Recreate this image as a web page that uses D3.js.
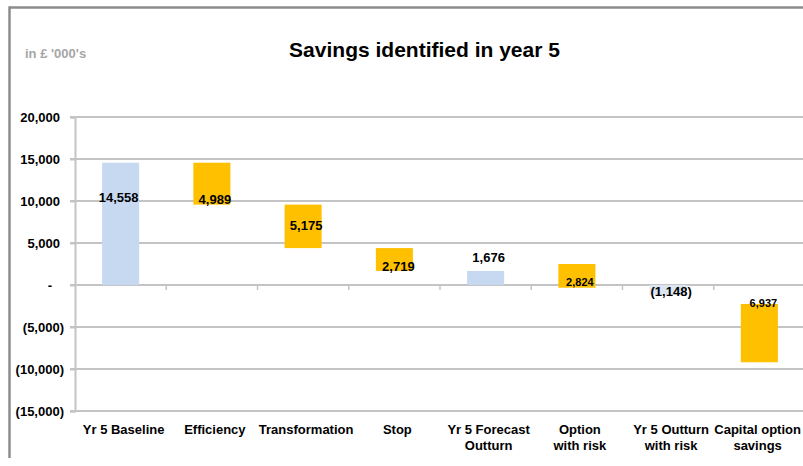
<!DOCTYPE html>
<html>
<head>
<meta charset="utf-8">
<script src="https://cdn.jsdelivr.net/npm/d3@7"></script>
<style>
  html, body { margin: 0; padding: 0; background: #fff; }
  svg { display: block; font-family: "Liberation Sans", Arial, sans-serif; }
</style>
</head>
<body>
<svg id="chart" width="803" height="466"></svg>
<script>
// ---- data (in £ '000s) ----
const categories = [
  "Yr 5 Baseline", "Efficiency", "Transformation", "Stop",
  "Yr 5 Forecast\nOutturn", "Option\nwith risk", "Yr 5 Outturn\nwith risk", "Capital option\nsavings"
];
// "total" bars stand on their own level, "step" bars show a saving taken off
const barKind = ["total", "step", "step", "step", "total", "step", "total", "step"];
// signed movement shown by each bar
const amounts = [14558, -4989, -5175, -2719, 1676, -2824, -1148, -6937];
// level each bar starts from
const barFrom = [0, 14558, 9569, 4394, 0, 2500, 0, -2262];
const yTicks = [20000, 15000, 10000, 5000, 0, -5000, -10000, -15000];

// ---- layout ----
const W = 803, H = 466;
const plot = { left: 75, top: 117, bottom: 411, right: 75 + 8 * 91.25 };
// where each value label sits (data units, baseline) and its size
const labelAt = [9845, 9607, 6512, 1667, 2774, -83, -1274, -2583];
const labelSize = [13, 13, 13, 13, 13, 11, 13, 11];
const labelDx = [-2, 3, 3, 4, 3, 3, 3, 4];

const svg = d3.select("#chart");

const x = d3.scaleBand()
  .domain(categories)
  .range([plot.left, plot.right])
  .paddingInner(0.594)
  .paddingOuter(0.297);

const y = d3.scaleLinear()
  .domain([-15000, 20000])
  .range([plot.bottom, plot.top]);

const gridColor = "#c4c4c4";

// gridlines
svg.append("g")
  .selectAll("line")
  .data(yTicks)
  .join("line")
  .attr("x1", plot.left - 5)
  .attr("x2", W + 10)
  .attr("y1", d => y(d))
  .attr("y2", d => y(d))
  .attr("stroke", gridColor)
  .attr("stroke-width", 2);

// value axis
const fmtAcc = v => v === 0 ? "-" : (v < 0 ? "(" + d3.format(",")(-v) + ")" : d3.format(",")(v));
const yAxis = svg.append("g")
  .attr("transform", `translate(${plot.left},0)`)
  .call(d3.axisLeft(y).tickValues(yTicks).tickSize(5).tickPadding(0).tickFormat(fmtAcc));
yAxis.select(".domain").attr("stroke", gridColor).attr("stroke-width", 2);
yAxis.selectAll(".tick line").attr("stroke", gridColor).attr("stroke-width", 2);
yAxis.selectAll(".tick text")
  .attr("x", d => d < 0 ? -11 : (d === 0 ? -23 : -15))
  .attr("dy", "0.36em")
  .attr("fill", "#000")
  .style("font-size", "13px")
  .style("font-weight", "bold")
  .style("font-family", "'Liberation Sans', Arial, sans-serif");

// category boundary ticks along the zero line
svg.append("g")
  .selectAll("line")
  .data(d3.range(1, categories.length + 1))
  .join("line")
  .attr("x1", i => plot.left + i * x.step())
  .attr("x2", i => plot.left + i * x.step())
  .attr("y1", y(0))
  .attr("y2", y(0) + 5)
  .attr("stroke", gridColor)
  .attr("stroke-width", 1.5);

// bars
const bars = categories.map((c, i) => {
  const mag = Math.abs(amounts[i]);
  const sign = barKind[i] === "total" ? Math.sign(amounts[i]) : -1;
  const a = barFrom[i], b = barFrom[i] + sign * mag;
  return { c, i, lo: Math.min(a, b), hi: Math.max(a, b) };
});

const colorFor = i => barKind[i] === "step" ? "#ffc000" : (amounts[i] < 0 ? "#dce6f2" : "#c6d9f1");

svg.append("g")
  .selectAll("rect")
  .data(bars)
  .join("rect")
  .attr("x", d => x(d.c))
  .attr("width", x.bandwidth())
  .attr("y", d => y(d.hi))
  .attr("height", d => y(d.lo) - y(d.hi))
  .attr("fill", d => colorFor(d.i));

// value labels
const labelText = i => barKind[i] === "step" ? d3.format(",")(Math.abs(amounts[i])) : fmtAcc(amounts[i]);
svg.append("g")
  .selectAll("text")
  .data(bars)
  .join("text")
  .attr("x", d => x(d.c) + x.bandwidth() / 2 + labelDx[d.i])
  .attr("y", d => y(labelAt[d.i]))
  .attr("text-anchor", "middle")
  .style("font-size", d => labelSize[d.i] + "px")
  .style("font-weight", "bold")
  .attr("fill", "#000")
  .text(d => labelText(d.i));

// category labels (two-line where needed, kept inside the right edge)
const catG = svg.append("g");
categories.forEach(c => {
  const t = catG.append("text")
    .attr("y", plot.bottom + 23)
    .attr("text-anchor", "middle")
    .style("font-size", "13px")
    .style("font-weight", "bold")
    .attr("fill", "#000");
  const spans = c.split("\n").map((line, k) =>
    t.append("tspan")
      .attr("x", x(c) + x.bandwidth() / 2 + 3)
      .attr("dy", k === 0 ? 0 : 16)
      .text(line));
  const box = t.node().getBBox();
  const overflow = box.x + box.width - (W - 2);
  if (overflow > 0) {
    spans.forEach(s => s.attr("x", x(c) + x.bandwidth() / 2 + 3 - overflow));
  }
});

// title and unit note
svg.append("text")
  .attr("x", 424.5)
  .attr("y", 57)
  .attr("text-anchor", "middle")
  .style("font-size", "21px")
  .style("font-weight", "bold")
  .attr("fill", "#000")
  .text("Savings identified in year 5");

svg.append("text")
  .attr("x", 25)
  .attr("y", 58)
  .style("font-size", "13px")
  .style("font-weight", "bold")
  .attr("fill", "#a6a6a6")
  .text("in £ '000's");

// chart frame
svg.append("line")
  .attr("x1", 9).attr("x2", W + 5)
  .attr("y1", 7.5).attr("y2", 7.5)
  .attr("stroke", "#8c8c8c").attr("stroke-width", 2.5);
svg.append("line")
  .attr("x1", 9.5).attr("x2", 9.5)
  .attr("y1", 6.5).attr("y2", 458)
  .attr("stroke", "#8c8c8c").attr("stroke-width", 2.5);
</script>
</body>
</html>
